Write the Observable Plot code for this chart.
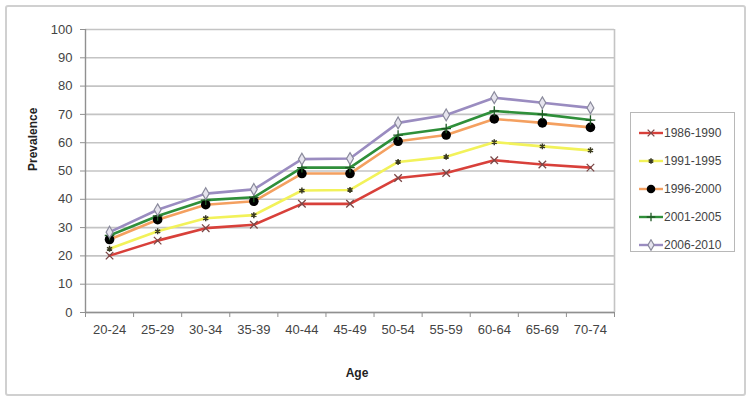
<!DOCTYPE html>
<html>
<head>
<meta charset="utf-8">
<script src="https://cdn.jsdelivr.net/npm/d3@7"></script>
<script src="https://cdn.jsdelivr.net/npm/@observablehq/plot@0.6"></script>
<style>
  body { margin: 0; background: #fff; font-family: "Liberation Sans", Arial, sans-serif; }
  #wrap { position: relative; width: 750px; height: 402px; }
  #frame { position: absolute; left: 5px; top: 5px; width: 737px; height: 387px; border: 2px solid #d0d0d0; border-radius: 3px; }
  #chart { position: absolute; left: 0; top: 0; }
  #legend { position: absolute; left: 630px; top: 112px; width: 105px; height: 140px; border: 1px solid #b8b8b8; box-sizing: border-box; padding-top: 6px; }
  .item { display: flex; align-items: center; height: 28px; font-size: 12px; color: #444; }
  .item svg { margin-left: 8px; margin-right: 1px; }
</style>
</head>
<body>
<div id="wrap">
  <div id="frame"></div>
  <div id="chart"></div>
  <div id="legend"></div>
</div>
<script>
const ages = ["20-24","25-29","30-34","35-39","40-44","45-49","50-54","55-59","60-64","65-69","70-74"];
const periods = ["1986-1990","1991-1995","1996-2000","2001-2005","2006-2010"];
const p1986 = [20.1, 25.4, 29.8, 31.0, 38.4, 38.4, 47.5, 49.3, 53.8, 52.3, 51.2];
const p1991 = [22.5, 28.7, 33.3, 34.4, 43.1, 43.3, 53.2, 55.0, 60.2, 58.7, 57.3];
const p1996 = [25.8, 32.8, 38.1, 39.3, 49.1, 49.1, 60.5, 62.7, 68.4, 67.0, 65.4];
const p2001 = [27.2, 34.1, 39.7, 40.7, 51.2, 51.2, 62.7, 65.0, 71.2, 70.0, 68.0];
const p2006 = [28.4, 36.3, 42.0, 43.5, 54.2, 54.4, 67.0, 69.8, 75.9, 74.1, 72.3];
const yTicks = [0,10,20,30,40,50,60,70,80,90,100];

const seriesValues = [p1986, p1991, p1996, p2001, p2006];
const lineColors = ["#d8403a", "#f2f25a", "#f4a060", "#2f8f3a", "#9a8cc0"];
const styles = [
  {symbol: "times", r: 3.5, fill: "none", stroke: "#7a4848", sw: 1.3},
  {symbol: "asterisk", r: 2.8, fill: "none", stroke: "#3a3a20", sw: 1.5},
  {symbol: "circle", r: 4.8, fill: "#000", stroke: "#000", sw: 0},
  {symbol: "plus", r: 3.2, fill: "none", stroke: "#1f5a25", sw: 1.3},
  {symbol: "diamond", r: 3.6, fill: "#e6e4ee", stroke: "#8a8a9c", sw: 1.2}
];

const data = [];
periods.forEach((p, si) => seriesValues[si].forEach((v, i) => data.push({period: p, idx: i, age: ages[i], value: v})));

const marks = [
  Plot.ruleY(yTicks, {stroke: "#c4c4c4", strokeWidth: 1.6}),
  Plot.ruleX([10.5], {y1: 0, y2: 100, stroke: "#c4c4c4", strokeWidth: 1.6}),
  Plot.ruleX([-0.5], {y1: 0, y2: 100, stroke: "#909090", strokeWidth: 1.4}),
  Plot.ruleY([0], {stroke: "#909090", strokeWidth: 1.4}),
  Plot.axisY({ticks: yTicks, tickSize: 5, tickPadding: 8, stroke: "#909090", fontSize: 13, color: "#444", label: null}),
  Plot.axisX({ticks: d3.range(-0.5, 11, 1), tickSize: 5, tickFormat: () => "", stroke: "#909090", label: null}),
  Plot.axisX({ticks: d3.range(0, 11), tickSize: 0, tickPadding: 12, tickFormat: i => ages[i], fontSize: 13, color: "#444", label: null}),
];
periods.forEach((p, si) => {
  const d = data.filter(e => e.period === p);
  marks.push(Plot.line(d, {x: "idx", y: "value", stroke: lineColors[si], strokeWidth: 2.6}));
});
periods.forEach((p, si) => {
  const d = data.filter(e => e.period === p);
  const s = styles[si];
  marks.push(Plot.dot(d, {x: "idx", y: "value", symbol: () => s.symbol, r: s.r, fill: s.fill, stroke: s.stroke, strokeWidth: s.sw}));
});
marks.push(Plot.text(["Prevalence"], {frameAnchor: "left", dx: -52, rotate: -90, fontWeight: "bold", fontSize: 12, fill: "#222"}));
marks.push(Plot.text(["Age"], {frameAnchor: "bottom", dx: 7, dy: 64, fontWeight: "bold", fontSize: 12, fill: "#222"}));

const chart = Plot.plot({
  width: 750,
  height: 402,
  marginLeft: 85,
  marginRight: 136,
  marginTop: 29,
  marginBottom: 90,
  style: {fontFamily: "Liberation Sans, Arial, sans-serif", background: "transparent"},
  x: {type: "linear", domain: [-0.5, 10.5]},
  y: {domain: [0, 100]},
  symbol: {type: "identity"},
  marks
});
document.getElementById("chart").appendChild(chart);

// legend
const legend = document.getElementById("legend");
periods.forEach((p, si) => {
  const s = styles[si];
  const item = document.createElement("div");
  item.className = "item";
  const sw = d3.create("svg").attr("width", 24).attr("height", 12);
  sw.append("line").attr("x1", 0).attr("x2", 24).attr("y1", 6).attr("y2", 6).attr("stroke", lineColors[si]).attr("stroke-width", 2.4);
  const sym = d3.symbol().type({times: d3.symbolTimes, asterisk: d3.symbolAsterisk, circle: d3.symbolCircle, plus: d3.symbolPlus, diamond: d3.symbolDiamond}[s.symbol]).size(Math.PI * s.r * s.r * 0.8);
  sw.append("path").attr("d", sym()).attr("transform", "translate(12,6)").attr("fill", s.fill).attr("stroke", s.stroke).attr("stroke-width", s.sw);
  item.appendChild(sw.node());
  const t = document.createElement("span");
  t.textContent = p;
  item.appendChild(t);
  legend.appendChild(item);
});
</script>
</body>
</html>
